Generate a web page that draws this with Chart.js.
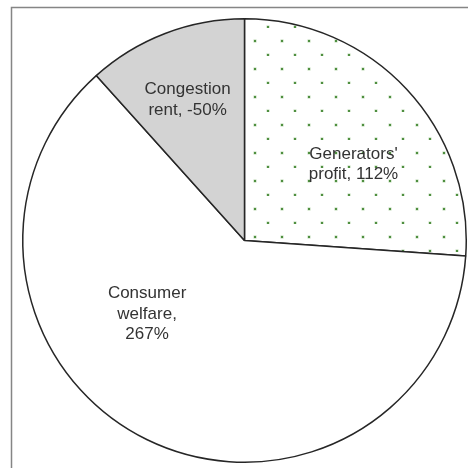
<!DOCTYPE html>
<html>
<head>
<meta charset="utf-8">
<script src="https://cdn.jsdelivr.net/npm/chart.js@4/dist/chart.umd.min.js"></script>
<style>
html,body{margin:0;padding:0;background:#fff;}
#wrap{width:468px;height:468px;position:relative;}
</style>
</head>
<body>
<div id="wrap"><canvas id="c" width="468" height="468"></canvas></div>
<script>
// Data
const categories = ["Generators' profit", "Consumer welfare", "Congestion rent"];
const shareValues = [112, 267, -50];           // percent shares as labelled
const labelLines = [["Generators'", "profit, 112%"], ["Consumer", "welfare,", "267%"], ["Congestion", "rent, -50%"]];
// label anchor: [angle (deg, clockwise from top), radius fraction]
const labelAnchors = [[55, 0.60], [233, 0.55], [338, 0.685]];

const sliceSizes = shareValues.map(v => Math.abs(v));

function dotPattern() {
  const t = document.createElement('canvas');
  t.width = 27; t.height = 28;
  const g = t.getContext('2d');
  g.fillStyle = '#ffffff';
  g.fillRect(0, 0, 27, 28);
  g.fillStyle = '#b9d6b0';
  g.fillRect(10.5, 11.5, 3, 3);
  g.fillRect(23.5, 25.5, 3, 3);
  g.fillStyle = '#4f8f40';
  g.fillRect(11, 12, 2, 2);
  g.fillRect(24, 26, 2, 2);
  const ctx = document.getElementById('c').getContext('2d');
  return ctx.createPattern(t, 'repeat');
}

const framePlugin = {
  id: 'frame',
  beforeDraw(chart) {
    const ctx = chart.ctx;
    ctx.save();
    ctx.strokeStyle = '#858585';
    ctx.lineWidth = 1.5;
    ctx.strokeRect(11.5, 7.5, 470, 470);
    ctx.restore();
  }
};

const labelPlugin = {
  id: 'sliceLabels',
  afterDatasetsDraw(chart) {
    const meta = chart.getDatasetMeta(0);
    const arc0 = meta.data[0];
    const cx = arc0.x, cy = arc0.y, R = arc0.outerRadius;
    const ctx = chart.ctx;
    ctx.save();
    ctx.font = '17px "Liberation Sans", Arial, sans-serif';
    ctx.fillStyle = '#333333';
    ctx.textAlign = 'center';
    ctx.textBaseline = 'middle';
    const lh = 20.5;
    labelLines.forEach((lines, i) => {
      const a = labelAnchors[i][0] * Math.PI / 180;
      const r = labelAnchors[i][1] * R;
      const x = cx + r * Math.sin(a);
      const y = cy - r * Math.cos(a);
      const y0 = y - (lines.length - 1) * lh / 2;
      lines.forEach((s, j) => ctx.fillText(s, x, y0 + j * lh));
    });
    ctx.restore();
  }
};

new Chart(document.getElementById('c'), {
  type: 'pie',
  data: {
    labels: categories,
    datasets: [{
      data: sliceSizes,
      backgroundColor: [dotPattern(), '#ffffff', '#d3d3d3'],
      borderColor: '#262626',
      borderWidth: 1.5
    }]
  },
  options: {
    responsive: false,
    animation: false,
    events: [],
    layout: { padding: { left: 22, right: 1, top: 18, bottom: 5 } },
    plugins: { legend: { display: false }, tooltip: { enabled: false } }
  },
  plugins: [framePlugin, labelPlugin]
});
</script>
</body>
</html>
